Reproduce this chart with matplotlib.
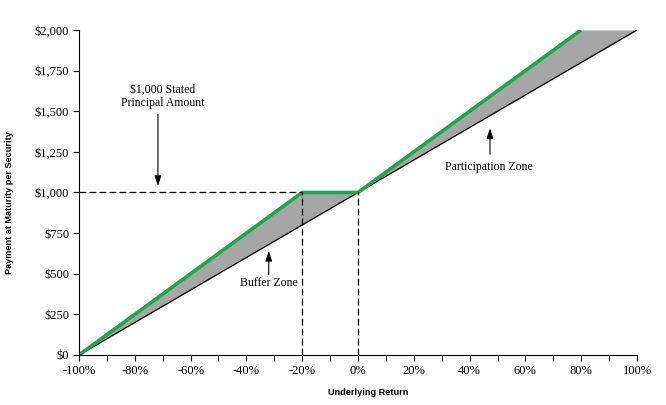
import matplotlib.pyplot as plt
import matplotlib

matplotlib.rcParams['font.family'] = 'Liberation Serif'

# payoff data (underlying return in %, payment in $)
x_ret = [-100, -20, 0, 80, 100]
security_pay = [0, 1000, 1000, 2000, 2000]
underlying_pay = [0, 800, 1000, 1800, 2000]

x_ticks = [-100, -80, -60, -40, -20, 0, 20, 40, 60, 80, 100]
x_labels = ['-100%', '-80%', '-60%', '-40%', '-20%', '0%', '20%', '40%', '60%', '80%', '100%']
y_ticks = [0, 250, 500, 750, 1000, 1250, 1500, 1750, 2000]
y_labels = ['$0', '$250', '$500', '$750', '$1,000', '$1,250', '$1,500', '$1,750', '$2,000']

fig = plt.figure(figsize=(6.66, 4.05), dpi=100)
ax = fig.add_axes([0.1186, 0.1235, 0.8379, 0.8025])

# grey zone between security and underlying
ax.fill_between(x_ret, underlying_pay, security_pay, color='#a6a6a6', lw=0)
ax.plot(x_ret, underlying_pay, color='black', lw=0.9)
ax.plot(x_ret[:4], security_pay[:4], color='#1ea64b', lw=2.6, solid_capstyle='butt')

# dashed guides
dash = (0, (5.5, 2.5))
ax.plot([-100, -20], [1000, 1000], color='black', lw=0.9, ls=dash)
ax.plot([-20, -20], [0, 1000], color='black', lw=0.9, ls=dash)
ax.plot([0, 0], [0, 1000], color='black', lw=0.9, ls=dash)

ax.set_xlim(-100, 100)
ax.set_ylim(0, 2000)
ax.set_xticks(x_ticks)
ax.set_xticklabels(x_labels, fontsize=9)
ax.set_xticks(range(-90, 100, 20), minor=True)
ax.set_yticks(y_ticks)
ax.set_yticklabels(y_labels, fontsize=9)
ax.tick_params(axis='both', which='both', direction='out', length=4, width=0.8, pad=3)
ax.spines['top'].set_visible(False)
ax.spines['right'].set_visible(False)

arrow = dict(arrowstyle='-|>,head_length=0.6,head_width=0.2', color='black', lw=0.8,
             mutation_scale=10, shrinkA=0, shrinkB=0)
ax.text(-70, 1590, '$1,000 Stated\nPrincipal Amount', ha='center', va='center', fontsize=8.5, linespacing=1.1)
ax.annotate('', xy=(-71.7, 1040), xytext=(-71.7, 1480), arrowprops=arrow)
ax.text(-32, 443, 'Buffer Zone', ha='center', va='center', fontsize=8.5)
ax.annotate('', xy=(-32, 640), xytext=(-32, 495), arrowprops=arrow)
ax.text(47, 1157, 'Participation Zone', ha='center', va='center', fontsize=8.5)
ax.annotate('', xy=(47.3, 1395), xytext=(47.3, 1235), arrowprops=arrow)

ax.set_xlabel('Underlying Return', fontsize=6.6, fontweight='bold', family='Liberation Sans', labelpad=8, x=0.518)
ax.set_ylabel('Payment at Maturity per Security', fontsize=6.6, fontweight='bold', family='Liberation Sans',
              labelpad=15, y=0.47)

fig.savefig('out.png', dpi=100)
